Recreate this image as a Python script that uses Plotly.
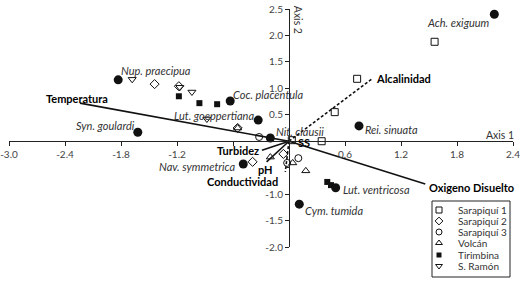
import plotly.graph_objects as go

# ---------------- data ----------------
# environmental vectors (biplot arrows from origin)
env_names = ["Temperatura", "Alcalinidad", "Oxigeno Disuelto", "Turbidez", "pH", "Conductividad", "SS"]
env_x = [-2.24, 0.89, 1.46, -0.29, -0.24, -0.04, 0.06]
env_y = [0.72, 1.18, -0.81, -0.17, -0.39, -0.58, 0.00]

# species scores
species_names = ["Ach. exiguum", "Nup. praecipua", "Syn. goulardi", "Coc. placentula",
                 "Lut. goeppertiana", "Nit. clausii", "Rei. sinuata", "Nav. symmetrica",
                 "Lut. ventricosa", "Cym. tumida"]
species_x = [2.20, -1.83, -1.62, -0.63, -0.33, -0.20, 0.75, -0.49, 0.50, 0.11]
species_y = [2.40, 1.16, 0.17, 0.76, 0.40, 0.06, 0.29, -0.43, -0.88, -1.19]

# site scores
site_names = ["Sarapiquí 1", "Sarapiquí 2", "Sarapiquí 3", "Volcán", "Tirimbina", "S. Ramón"]
sar1_x = [1.56, 0.73, 0.49, 0.35, 0.03]
sar1_y = [1.88, 1.18, 0.55, 0.00, 0.02]
sar2_x = [-1.44, -1.18, -0.55, -0.39, -0.06]
sar2_y = [1.08, 1.04, 0.25, -0.39, -0.24]
sar3_x = [-0.32, 0.10, -0.02]
sar3_y = [0.08, -0.32, -0.41]
volc_x = [-0.20, 0.04, 0.18, -0.55]
volc_y = [-0.30, -0.41, -0.56, 0.25]
tiri_x = [-1.18, -0.96, -0.77, 0.41, 0.45]
tiri_y = [0.85, 0.72, 0.70, -0.77, -0.83]
sram_x = [-1.68, -1.17, -1.04, -0.88]
sram_y = [1.17, 1.02, 0.93, 0.42]

x_ticks = [-3.0, -2.4, -1.8, -1.2, -0.6, 0.6, 1.2, 1.8, 2.4]
x_ticklabels = ["-3.0", "-2.4", "-1.8", "-1.2", "", "0.6", "1.2", "1.8", "2.4"]
y_ticks = [2.5, 2.0, 1.5, 1.0, 0.5, -0.5, -1.0, -1.5, -2.0]
y_ticklabels = ["2.5", "2.0", "1.5", "1.0", "0.5", "", "-1.0", "-1.5", "-2.0"]

# ---------------- styles / layout ----------------
FONT = "Lato"
INK = "#111111"
W, H = 529, 283
ML, MR, MT, MB = 9, 16, 9, 0
PLOT_BOTTOM = 247            # pixel row of y = -2.0
X_RANGE = [-3.0, 2.4]
Y_RANGE = [-2.0, 2.5]
DASH = "3px,2px"

env_style = {
    "Temperatura": dict(dash="solid", xanchor="center", xshift=-3, yshift=5),
    "Alcalinidad": dict(dash=DASH, xanchor="left", xshift=2, yshift=0),
    "Oxigeno Disuelto": dict(dash="solid", xanchor="left", xshift=2, yshift=-3),
    "Turbidez": dict(dash="solid", xanchor="right", xshift=-1, yshift=0),
    "pH": dict(dash="solid", xanchor="center", xshift=-1, yshift=-8),
    "Conductividad": dict(dash=DASH, xanchor="right", xshift=-5, yshift=-10),
    "SS": dict(dash=None, xanchor="left", xshift=1, yshift=-1),
}
species_style = {
    "Ach. exiguum": dict(xanchor="right", xshift=-2, yshift=-8),
    "Nup. praecipua": dict(xanchor="left", xshift=1, yshift=9),
    "Syn. goulardi": dict(xanchor="right", xshift=-1, yshift=7),
    "Coc. placentula": dict(xanchor="left", xshift=1, yshift=7),
    "Lut. goeppertiana": dict(xanchor="right", xshift=-2, yshift=5),
    "Nit. clausii": dict(xanchor="left", xshift=4, yshift=7),
    "Rei. sinuata": dict(xanchor="left", xshift=4, yshift=-4),
    "Nav. symmetrica": dict(xanchor="right", xshift=-5, yshift=-3),
    "Lut. ventricosa": dict(xanchor="left", xshift=5, yshift=-2),
    "Cym. tumida": dict(xanchor="left", xshift=4, yshift=-6),
}
site_markers = [
    dict(symbol="square-open", size=7, color=INK, line=dict(width=1, color=INK)),
    dict(symbol="diamond-open", size=7, color=INK, line=dict(width=1, color=INK)),
    dict(symbol="circle-open", size=7, color=INK, line=dict(width=1, color=INK)),
    dict(symbol="triangle-up-open", size=7, color=INK, line=dict(width=1, color=INK)),
    dict(symbol="square", size=6, color=INK, line=dict(width=0)),
    dict(symbol="triangle-down-open", size=7, color=INK, line=dict(width=1, color=INK)),
]
site_data = [(sar1_x, sar1_y), (sar2_x, sar2_y), (sar3_x, sar3_y),
             (volc_x, volc_y), (tiri_x, tiri_y), (sram_x, sram_y)]

fig = go.Figure()

# env vectors
for name, ex, ey in zip(env_names, env_x, env_y):
    st = env_style[name]
    if st["dash"] is not None:
        fig.add_trace(go.Scatter(x=[0, ex], y=[0, ey], mode="lines",
                                 line=dict(color=INK, width=1.6, dash=st["dash"]),
                                 hoverinfo="skip", showlegend=False))

# sites
for name, (sx, sy), mk in zip(site_names, site_data, site_markers):
    fig.add_trace(go.Scatter(x=sx, y=sy, mode="markers", marker=mk, name=name,
                             showlegend=False, cliponaxis=False))

# species
fig.add_trace(go.Scatter(x=species_x, y=species_y, mode="markers",
                         marker=dict(symbol="circle", size=9, color=INK),
                         showlegend=False, cliponaxis=False))

annotations = []
for name, sx, sy in zip(species_names, species_x, species_y):
    st = species_style[name]
    annotations.append(dict(x=sx, y=sy, xref="x", yref="y", text=f"<i>{name}</i>",
                            showarrow=False, xanchor=st["xanchor"], yanchor="middle",
                            xshift=st["xshift"], yshift=st["yshift"],
                            font=dict(family=FONT, size=11, color="#333333")))
for name, ex, ey in zip(env_names, env_x, env_y):
    st = env_style[name]
    annotations.append(dict(x=ex, y=ey, xref="x", yref="y", text=f"<b>{name}</b>",
                            showarrow=False, xanchor=st["xanchor"], yanchor="middle",
                            xshift=st["xshift"], yshift=st["yshift"],
                            font=dict(family=FONT, size=11, color="#000000")))

annotations.append(dict(x=0.1, y=2.29, xref="x", yref="y", text="Axis 2", textangle=90,
                        showarrow=False, font=dict(family=FONT, size=10.5, color="#333333")))
annotations.append(dict(x=2.26, y=0.12, xref="x", yref="y", text="Axis 1",
                        showarrow=False, font=dict(family=FONT, size=10.5, color="#333333")))

# manual legend drawn on a pixel-coordinate helper axis pair (x2 / y2)
leg_box = dict(x0=432, x1=510, y0=201, y1=277)
leg_row_y = [210, 221, 232, 243, 255, 266]
leg_sym_x = 439
leg_txt_x = 456
for name, mk, ly in zip(site_names, site_markers, leg_row_y):
    mk2 = dict(mk)
    mk2["size"] = mk["size"] - 1
    fig.add_trace(go.Scatter(x=[leg_sym_x], y=[ly], xaxis="x2", yaxis="y2", mode="markers",
                             marker=mk2, showlegend=False, cliponaxis=False, hoverinfo="skip"))
    annotations.append(dict(x=leg_txt_x, y=ly, xref="x2", yref="y2", text=name,
                            showarrow=False, xanchor="left", yanchor="middle",
                            font=dict(family=FONT, size=10, color="#333333")))

shapes = [dict(type="rect", xref="x2", yref="y2", line=dict(color="#222222", width=1),
               fillcolor="rgba(0,0,0,0)", **leg_box)]

axis_common = dict(showgrid=False, zeroline=False, showline=True, linecolor="#222222",
                   linewidth=1, ticks="outside", ticklen=4, tickcolor="#222222",
                   tickfont=dict(family=FONT, size=10, color="#444444"))

plot_h = H - MT - MB
y_dom0 = (H - MB - PLOT_BOTTOM) / plot_h
y_zero_frac = (0 - Y_RANGE[0]) / (Y_RANGE[1] - Y_RANGE[0])
x_axis_pos = y_dom0 + y_zero_frac * (1 - y_dom0)
y_axis_pos = (0 - X_RANGE[0]) / (X_RANGE[1] - X_RANGE[0])

fig.update_layout(
    width=W, height=H,
    margin=dict(l=ML, r=MR, t=MT, b=MB, pad=0, autoexpand=False),
    paper_bgcolor="white", plot_bgcolor="rgba(0,0,0,0)",
    showlegend=False,
    xaxis=dict(range=X_RANGE, domain=[0, 1], anchor="free", position=x_axis_pos,
               tickvals=x_ticks, ticktext=x_ticklabels, **axis_common),
    yaxis=dict(range=Y_RANGE, domain=[y_dom0, 1], anchor="free", position=y_axis_pos,
               tickvals=y_ticks, ticktext=y_ticklabels, **axis_common),
    xaxis2=dict(range=[ML, W - MR], domain=[0, 1], anchor="y2", visible=False, fixedrange=True),
    yaxis2=dict(range=[H - MB, MT], domain=[0, 1], anchor="x2", visible=False, fixedrange=True),
    annotations=annotations,
    shapes=shapes,
)

fig.write_html("out.html", config={"displayModeBar": False},
               post_script="document.body.style.margin='0';document.body.style.overflow='hidden';")
